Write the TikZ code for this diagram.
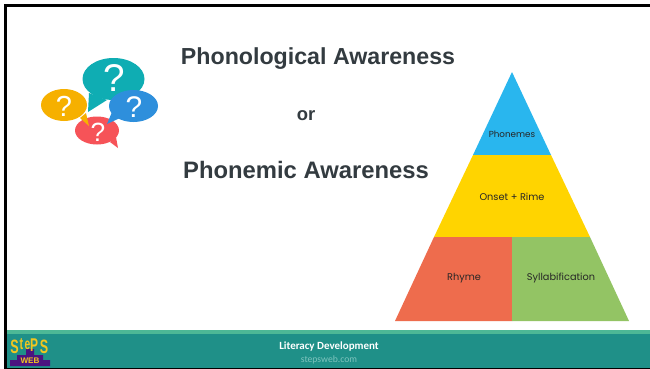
\documentclass[tikz,border=0pt]{standalone}
\usepackage{fontspec}
\setmainfont{Liberation Sans}
\newfontfamily\popfont{Poppins}
\newfontfamily\calfont{Carlito}
\usetikzlibrary{positioning}

\definecolor{titlegray}{HTML}{333B40}
\definecolor{footteal}{HTML}{1F9088}
\definecolor{footband}{HTML}{4DB896}
\definecolor{footlink}{HTML}{7FC4BE}
\definecolor{bubteal}{HTML}{0FADB3}
\definecolor{bubyellow}{HTML}{F6B000}
\definecolor{bubblue}{HTML}{2E8FDC}
\definecolor{bubred}{HTML}{F65358}
\definecolor{pyrblue}{HTML}{29B6EE}
\definecolor{pyryellow}{HTML}{FFD400}
\definecolor{pyrorange}{HTML}{EE6C4D}
\definecolor{pyrgreen}{HTML}{93C464}
\definecolor{logopurple}{HTML}{4B1480}
\definecolor{logoyellow}{HTML}{F2C61F}

\tikzset{
    titletext/.style={font=\fontsize{13.2}{16}\selectfont\bfseries, text=titlegray},
    pyrtext/.style={font=\popfont\fontsize{5.55}{6}\selectfont, text=black!85},
    quest/.style={text=white, inner sep=0pt},
}

\begin{document}
\begin{tikzpicture}[x=0.02cm,y=-0.02cm]
    \useasboundingbox (0,0) rectangle (650,369);
    \fill[white] (0,0) rectangle (650,369);

    % frame and footer
    \fill[footteal] (5,330) rectangle (650,368);
    \fill[footband] (5,330) rectangle (650,334);
    \fill[black] (4,4) rectangle (650,6.5);
    \fill[black] (4,4) rectangle (6.5,369);
    \fill[black] (4,367.5) rectangle (650,369);
    \node[font=\calfont\fontsize{6.25}{7}\selectfont\bfseries, text=white] (footname) at (329,347) {Literacy Development};
    \node[font=\calfont\fontsize{5.5}{6}\selectfont, text=footlink] (footlink) at (329,359.5) {stepsweb.com};

    % logo
    \fill[logopurple] (10,366) -- (10,360) -- (17,360) -- (17,355) -- (26,355) -- (26,349) -- (34,349) -- (34,355) -- (43,355) -- (43,360) -- (50,360) -- (50,366) -- cycle;
    \node[font=\fontsize{4.6}{5}\selectfont\bfseries, text=logoyellow] (logoweb) at (30,360.5) {WEB};
    \foreach \ltr/\posx/\posy/\fsize [count=\i] in {S/14.5/347/11, t/21.5/344/9.5, e/27.5/345.5/9, P/34/345.5/10.5, S/44/347/11}
        \node[font=\fontsize{\fsize}{12}\selectfont\bfseries, text=logoyellow, inner sep=0pt, xscale=0.65] (logoletter\i) at (\posx,\posy) {\ltr};

    % speech bubbles
    \fill[bubteal] (89,93) -- (88,112) -- (107,100) -- cycle;
    \fill[bubteal] (113.5,79) ellipse [x radius=31, y radius=21];
    \fill[bubred] (110,142) -- (118,148) -- (116,137) -- cycle;
    \fill[bubred] (97,130.5) ellipse [x radius=22, y radius=14];
    \fill[bubyellow] (80,118) -- (89,126) -- (86,113) -- cycle;
    \fill[bubyellow] (64,105) ellipse [x radius=23, y radius=16];
    \fill[bubblue] (112,112) -- (107,124) -- (120,118) -- cycle;
    \fill[bubblue] (133.5,106) ellipse [x radius=24.5, y radius=16];
    \node[quest, font=\fontsize{22}{24}\selectfont] (questteal) at (114,78) {?};
    \node[quest, font=\fontsize{16.5}{18}\selectfont] (questyellow) at (64,106) {?};
    \node[quest, font=\fontsize{17}{18}\selectfont] (questblue) at (134,107) {?};
    \node[quest, font=\fontsize{15}{16}\selectfont] (questred) at (98,132) {?};

    % titles
    \node[titletext] (phonological) at (318,58.5) {Phonological Awareness};
    \node[titletext, font=\fontsize{10.5}{12}\selectfont\bfseries] (ortext) at (306,115.5) {or};
    \node[titletext, font=\fontsize{13.55}{16}\selectfont\bfseries] (phonemic) at (306,170) {Phonemic Awareness};

    % pyramid
    \fill[pyrblue] (512,72) -- (551,155) -- (473,155) -- cycle;
    \fill[pyryellow] (473,155) -- (551,155) -- (590,237) -- (434,237) -- cycle;
    \fill[pyrorange] (434,237) -- (512,237) -- (512,321) -- (395,321) -- cycle;
    \fill[pyrgreen] (512,237) -- (590,237) -- (629,321) -- (512,321) -- cycle;
    \node[pyrtext, font=\popfont\fontsize{5}{6}\selectfont] (phonemes) at (512,134.5) {Phonemes};
    \node[pyrtext] (onsetrime) at (512,197) {Onset + Rime};
    \node[pyrtext] (rhyme) at (464,278) {Rhyme};
    \node[pyrtext] (syllab) at (561,278) {Syllabification};
\end{tikzpicture}
\end{document}
